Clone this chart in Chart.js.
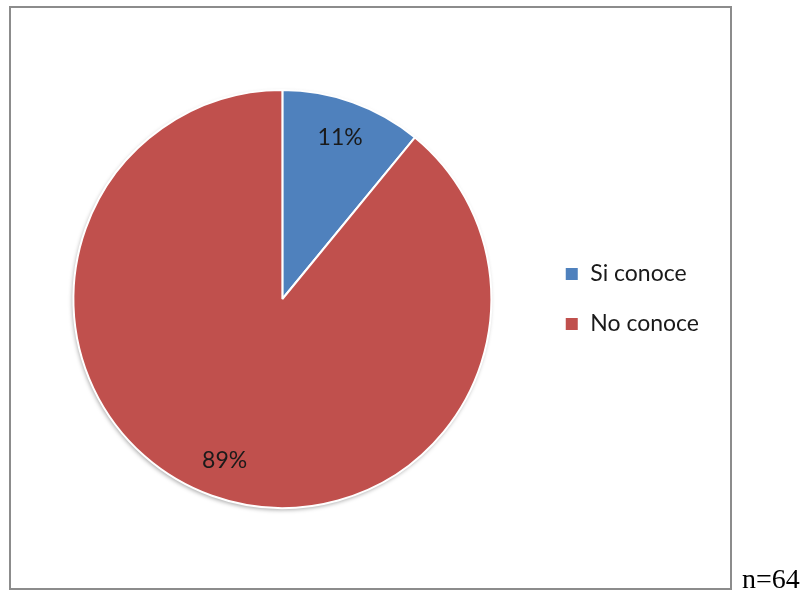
<!DOCTYPE html>
<html>
<head>
<meta charset="utf-8">
<script src="https://cdn.jsdelivr.net/npm/chart.js@4.4.1/dist/chart.umd.min.js"></script>
<style>
  html, body { margin: 0; padding: 0; background: #fff; }
  body { width: 804px; height: 593px; position: relative; overflow: hidden; }
  #frame {
    position: absolute; left: 9px; top: 6px;
    width: 719px; height: 580px;
    border: 2px solid #8c8c8c;
  }
  #wrap { position: absolute; left: 0; top: 0; width: 804px; height: 593px; }
  #note {
    position: absolute; left: 742px; top: 563px;
    font-family: "Liberation Serif", serif; font-size: 28px; color: #000;
  }
</style>
</head>
<body>
<div id="frame"></div>
<div id="wrap"><canvas id="pieChart"></canvas></div>
<div id="note">n=64</div>
<script>
// respondents (n=64)
const categories = ['Si conoce', 'No conoce'];
const counts = [7, 57];
const percentLabels = ['11%', '89%'];
const sliceColors = ['#4F81BD', '#C0504D'];

const labelFont = '23px Lato';

// percentage labels drawn inside each slice
const sliceLabels = {
    id: 'sliceLabels',
    beforeDatasetsDraw(chart) {
        const arc = chart.getDatasetMeta(0).data[0];
        if (!arc) return;
        const ctx = chart.ctx;
        ctx.save();
        ctx.shadowColor = 'rgba(0, 0, 0, 0.35)';
        ctx.shadowBlur = 4;
        ctx.shadowOffsetX = -1;
        ctx.shadowOffsetY = 2;
        ctx.fillStyle = '#fff';
        ctx.beginPath();
        ctx.arc(arc.x, arc.y, arc.outerRadius, 0, Math.PI * 2);
        ctx.fill();
        ctx.restore();
    },
    afterDatasetsDraw(chart) {
        const ctx = chart.ctx;
        const meta = chart.getDatasetMeta(0);
        ctx.save();
        ctx.font = labelFont;
        ctx.fillStyle = '#1a1a1a';
        ctx.textAlign = 'center';
        ctx.textBaseline = 'middle';
        meta.data.forEach((arc, i) => {
            const mid = (arc.startAngle + arc.endAngle) / 2;
            const r = arc.outerRadius * 0.82;
            ctx.fillText(percentLabels[i], arc.x + Math.cos(mid) * r, arc.y + Math.sin(mid) * r);
        });
        ctx.restore();
    }
};

const ctx = document.getElementById('pieChart').getContext('2d');
new Chart(ctx, {
    type: 'pie',
    data: {
        labels: categories,
        datasets: [{
            data: counts,
            backgroundColor: sliceColors,
            borderColor: '#ffffff',
            borderWidth: 2,
            radius: 209
        }]
    },
    options: {
        responsive: true,
        maintainAspectRatio: false,
        animation: false,
        layout: {
            padding: { left: 27, right: 95, top: 41, bottom: 36 }
        },
        plugins: {
            tooltip: { enabled: false },
            legend: {
                position: 'right',
                labels: {
                    font: { family: 'Lato', size: 23 },
                    color: '#1a1a1a',
                    boxWidth: 14,
                    boxHeight: 14,
                    padding: 27
                }
            }
        }
    },
    plugins: [sliceLabels]
});
</script>
</body>
</html>
